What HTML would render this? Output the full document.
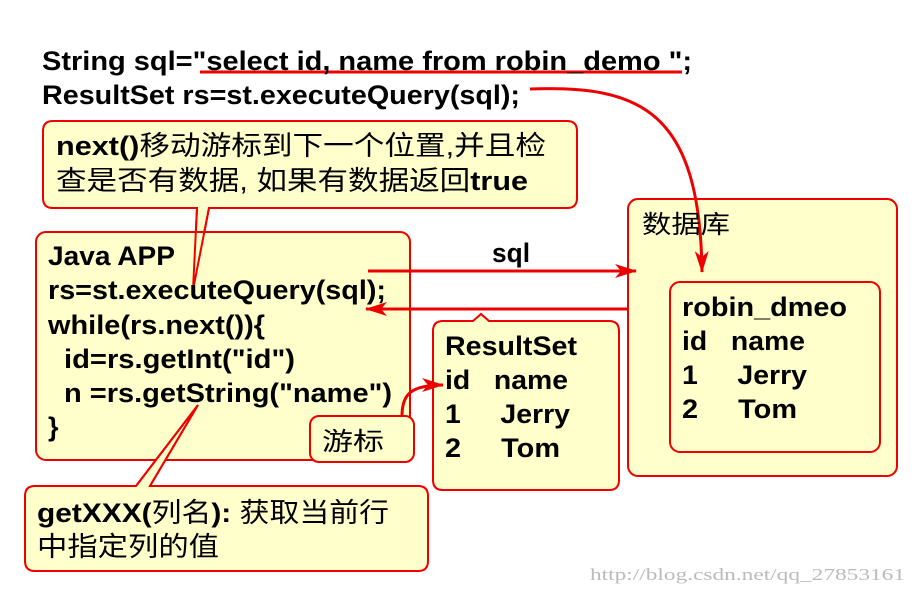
<!DOCTYPE html>
<html><head><meta charset="utf-8"><style>
html,body{margin:0;padding:0;background:#fff;}
svg{display:block;}
text{font-family:"Liberation Sans","Noto Sans CJK SC",sans-serif;font-weight:bold;font-size:27px;fill:#000;}
.cn{font-weight:normal;}
</style></head><body>
<svg width="918" height="593" viewBox="0 0 918 593" xmlns="http://www.w3.org/2000/svg">
<defs>
<marker id="ah2" markerWidth="22" markerHeight="14" refX="21" refY="7" orient="auto" markerUnits="userSpaceOnUse">
<path d="M0,0 L22,7 L0,14 L6,7 z" fill="#e00"/></marker>
</defs>
<g stroke="#e00" stroke-width="2" fill="#ffffcc">
<path d="M53,121 H567 Q577,121 577,131 V198 Q577,208 567,208 H209 L193,290 L197,208 H53 Q43,208 43,198 V131 Q43,121 53,121 Z"/>
<rect x="36" y="232" width="374" height="228" rx="10"/>
<rect x="628" y="199" width="269" height="277" rx="10"/>
<rect x="670" y="282" width="210" height="170" rx="10"/>
<path d="M443,321 H473 L481,314 L489,321 H609 Q619,321 619,331 V480 Q619,490 609,490 H443 Q433,490 433,480 V331 Q433,321 443,321 Z"/>
<rect x="310" y="416" width="104" height="46" rx="9"/>
<path d="M35,486 H136 L198,405 L150,486 H418 Q428,486 428,496 V561 Q428,571 418,571 H35 Q25,571 25,561 V496 Q25,486 35,486 Z"/>
</g>
<g fill="none" stroke="#e00" stroke-width="2">
<polyline points="209,208 193,290 197,208"/>
<polyline points="136,486 198,405 150,486"/>
</g>
<g fill="none" stroke="#e00" stroke-width="3">
<line x1="200" y1="72" x2="682" y2="72"/>
<path d="M530,89 C640,85 700,110 702,272" marker-end="url(#ah2)"/>
<line x1="368" y1="271" x2="636" y2="271" marker-end="url(#ah2)"/>
<line x1="628" y1="309" x2="366" y2="309" marker-end="url(#ah2)"/>
<path d="M402,416 C402,395 410,385 443,385" marker-end="url(#ah2)"/>
</g>
<text x="42" y="70" textLength="650" lengthAdjust="spacingAndGlyphs">String sql="select id, name from robin_demo ";</text>
<text x="42" y="104" textLength="478" lengthAdjust="spacingAndGlyphs">ResultSet rs=st.executeQuery(sql);</text>
<text x="56" y="155" textLength="490" lengthAdjust="spacingAndGlyphs">next()<tspan class="cn">移动游标到下一个位置,并且检</tspan></text>
<text x="56" y="190" class="cn" textLength="472" lengthAdjust="spacingAndGlyphs">查是否有数据, 如果有数据返回<tspan style="font-weight:bold">true</tspan></text>
<text x="48" y="265" textLength="127" lengthAdjust="spacingAndGlyphs">Java APP</text>
<text x="48" y="299" textLength="338" lengthAdjust="spacingAndGlyphs">rs=st.executeQuery(sql);</text>
<text x="48" y="334" textLength="217" lengthAdjust="spacingAndGlyphs">while(rs.next()){</text>
<text x="64" y="368" textLength="231" lengthAdjust="spacingAndGlyphs">id=rs.getInt("id")</text>
<text x="64" y="402" textLength="328" lengthAdjust="spacingAndGlyphs">n =rs.getString("name")</text>
<text x="48" y="436">}</text>
<text x="492" y="262" textLength="38" lengthAdjust="spacingAndGlyphs">sql</text>
<text x="642" y="233" class="cn" style="font-size:25px" textLength="88" lengthAdjust="spacingAndGlyphs">数据库</text>
<text x="682" y="316" textLength="165" lengthAdjust="spacingAndGlyphs">robin_dmeo</text>
<text x="682" y="350" textLength="123" lengthAdjust="spacingAndGlyphs">id&#160;&#160; name</text>
<text x="682" y="384" textLength="125" lengthAdjust="spacingAndGlyphs">1&#160;&#160;&#160;&#160; Jerry</text>
<text x="682" y="418" textLength="115" lengthAdjust="spacingAndGlyphs">2&#160;&#160;&#160;&#160; Tom</text>
<text x="445" y="355" textLength="132" lengthAdjust="spacingAndGlyphs">ResultSet</text>
<text x="445" y="389" textLength="123" lengthAdjust="spacingAndGlyphs">id&#160;&#160; name</text>
<text x="445" y="423" textLength="125" lengthAdjust="spacingAndGlyphs">1&#160;&#160;&#160;&#160; Jerry</text>
<text x="445" y="457" textLength="115" lengthAdjust="spacingAndGlyphs">2&#160;&#160;&#160;&#160; Tom</text>
<text x="322" y="450" class="cn" style="font-size:25px" textLength="62" lengthAdjust="spacingAndGlyphs">游标</text>
<text x="37" y="522" textLength="352" lengthAdjust="spacingAndGlyphs">getXXX(<tspan class="cn">列名</tspan>): <tspan class="cn">获取当前行</tspan></text>
<text x="37" y="556" class="cn" textLength="182" lengthAdjust="spacingAndGlyphs">中指定列的值</text>
<text x="590" y="580" style="font-family:'Liberation Serif',serif;font-weight:normal;font-size:17px;fill:#bbb" textLength="315" lengthAdjust="spacingAndGlyphs">http://blog.csdn.net/qq_27853161</text>
</svg>
</body></html>
